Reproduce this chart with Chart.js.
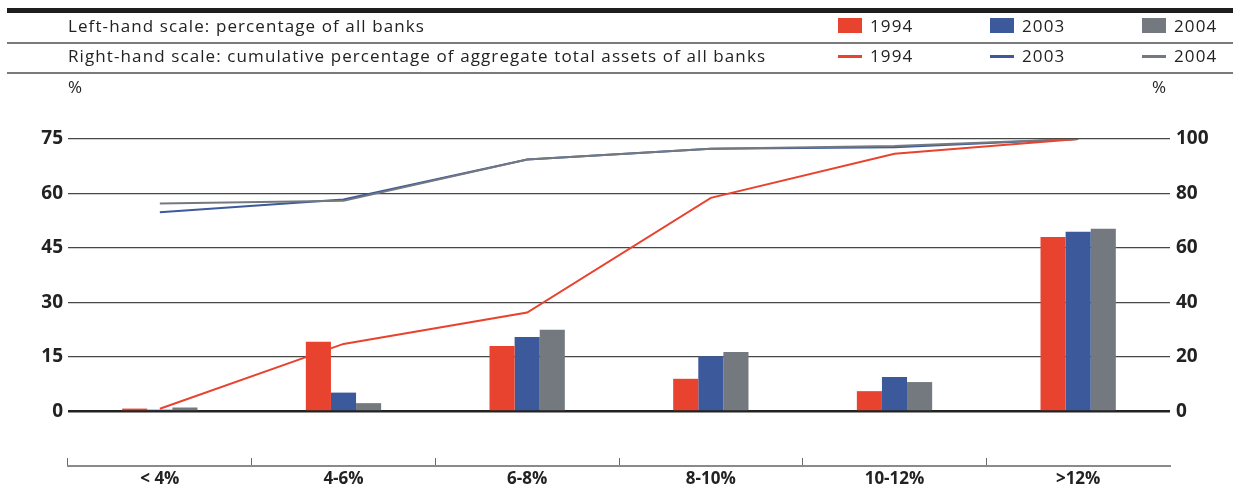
<!DOCTYPE html>
<html>
<head>
<meta charset="utf-8">
<script src="https://cdn.jsdelivr.net/npm/chart.js@4/dist/chart.umd.min.js"></script>
<style>
  html, body { margin: 0; padding: 0; background: #fff; }
  #wrap { position: relative; width: 1237px; height: 489px; overflow: hidden;
          font-family: "Open Sans", sans-serif; color: #222; }
  #wrap canvas { position: absolute; left: 0; top: 0; }
  .rule { position: absolute; left: 7px; width: 1226px; }
  .thick { top: 8px; height: 5px; background: #1e1e1e; }
  .thin { height: 1.5px; background: #7a7a7a; }
  .txt { position: absolute; font-size: 17px; line-height: 20px; white-space: nowrap; letter-spacing: 1.1px; }
  .box { position: absolute; width: 24px; height: 15px; }
  .dash { position: absolute; width: 24px; height: 2.5px; }
</style>
</head>
<body>
<div id="wrap">
  <canvas id="bankChart" width="1237" height="489"></canvas>
  <div class="rule thick"></div>
  <div class="txt" style="left:68px; top:16px;">Left-hand scale: percentage of all banks</div>
  <div class="rule thin" style="top:42px;"></div>
  <div class="txt" style="left:68px; top:46px;">Right-hand scale: cumulative percentage of aggregate total assets of all banks</div>
  <div class="rule thin" style="top:72px;"></div>
  <div class="txt" style="left:68px; top:77px;">%</div>
  <div class="txt" style="left:1152px; top:77px;">%</div>
  <div id="legend"></div>
</div>
<script>
/*  data
-------------------------------------------------------*/
var categories = ['< 4%', '4-6%', '6-8%', '8-10%', '10-12%', '>12%'];
var years = ['1994', '2003', '2004'];
var colors = ['#e8432f', '#3c5a9b', '#74787f'];

// share of all banks, left-hand scale
var banks1994 = [0.8, 19.2, 18.0, 9.0, 5.6, 48.0];
var banks2003 = [0.5, 5.2, 20.5, 15.2, 9.5, 49.5];
var banks2004 = [1.1, 2.3, 22.5, 16.4, 8.1, 50.3];

// cumulative share of total assets, right-hand scale
var assets1994 = [1.0, 24.8, 36.3, 78.4, 94.6, 100];
var assets2003 = [73.1, 77.8, 92.5, 96.4, 97.0, 100];
var assets2004 = [76.3, 77.3, 92.5, 96.4, 97.4, 100];

var leftTicks = [0, 15, 30, 45, 60, 75];
var rightTicks = [0, 20, 40, 60, 80, 100];

/*  legend rows
-------------------------------------------------------*/
var legend = document.getElementById('legend');
var legendX = [838, 990, 1142];
years.forEach(function (y, i) {
  legend.insertAdjacentHTML('beforeend',
    '<div class="box" style="left:' + legendX[i] + 'px; top:18px; background:' + colors[i] + ';"></div>' +
    '<div class="txt" style="left:' + (legendX[i] + 32) + 'px; top:16px;">' + y + '</div>' +
    '<div class="dash" style="left:' + legendX[i] + 'px; top:55px; background:' + colors[i] + ';"></div>' +
    '<div class="txt" style="left:' + (legendX[i] + 32) + 'px; top:46px;">' + y + '</div>');
});

/*  chart
-------------------------------------------------------*/
var tickFont = { family: 'Open Sans', size: 19, weight: 'bold' };

function barSet(label, data, color) {
  return {
    type: 'bar', label: label, data: data, yAxisID: 'y', order: 2,
    backgroundColor: color, borderWidth: 0,
    barPercentage: 1, categoryPercentage: 0.41
  };
}
function lineSet(label, data, color, order) {
  return {
    type: 'line', label: label, data: data, yAxisID: 'y1', order: order,
    borderColor: color, borderWidth: 2, pointRadius: 0, tension: 0, fill: false
  };
}

var ctx = document.getElementById('bankChart');
var bankChart = new Chart(ctx, {
  data: {
    labels: categories,
    datasets: [
      barSet('1994', banks1994, colors[0]),
      barSet('2003', banks2003, colors[1]),
      barSet('2004', banks2004, colors[2]),
      lineSet('1994', assets1994, colors[0], 0),
      lineSet('2003', assets2003, colors[1], 1),
      lineSet('2004', assets2004, colors[2], 0.5)
    ]
  },
  options: {
    responsive: false,
    animation: false,
    devicePixelRatio: 1,
    layout: { padding: { top: 139, left: 0, right: 0, bottom: 0 } },
    plugins: { legend: { display: false }, tooltip: { enabled: false } },
    scales: {
      x: {
        offset: true,
        grid: {
          offset: true,
          drawOnChartArea: false,
          drawTicks: true,
          tickLength: -8,
          lineWidth: 1,
          color: function (c) { return c.tick ? '#6a6a6a' : 'rgba(0,0,0,0)'; }
        },
        border: { display: true, color: '#8a8a8a', width: 2 },
        ticks: { font: { family: 'Open Sans', size: 17, weight: 'bold' }, color: '#222', padding: 11 },
        afterFit: function (s) { s.height = 23; }
      },
      y: {
        position: 'left',
        min: -15, max: 75,
        afterBuildTicks: function (s) { s.ticks = [-15].concat(leftTicks).map(function (v) { return { value: v }; }); },
        ticks: {
          font: tickFont, color: '#222', padding: 5,
          callback: function (v) { return v < 0 ? '' : v; }
        },
        grid: {
          drawTicks: false,
          color: function (c) {
            if (!c.tick || c.tick.value < 0) return 'rgba(0,0,0,0)';
            return c.tick.value === 0 ? '#222' : '#474747';
          },
          lineWidth: function (c) { return c.tick && c.tick.value === 0 ? 2.5 : 1.3; }
        },
        border: { display: false },
        afterFit: function (s) { s.width = 68; }
      },
      y1: {
        position: 'right',
        min: -20, max: 100,
        afterBuildTicks: function (s) { s.ticks = [-20].concat(rightTicks).map(function (v) { return { value: v }; }); },
        ticks: {
          font: tickFont, color: '#222', padding: 6,
          callback: function (v) { return v < 0 ? '' : v; }
        },
        grid: { drawOnChartArea: false, drawTicks: false },
        border: { display: false },
        afterFit: function (s) { s.width = 67; }
      }
    }
  }
});
</script>
</body>
</html>
